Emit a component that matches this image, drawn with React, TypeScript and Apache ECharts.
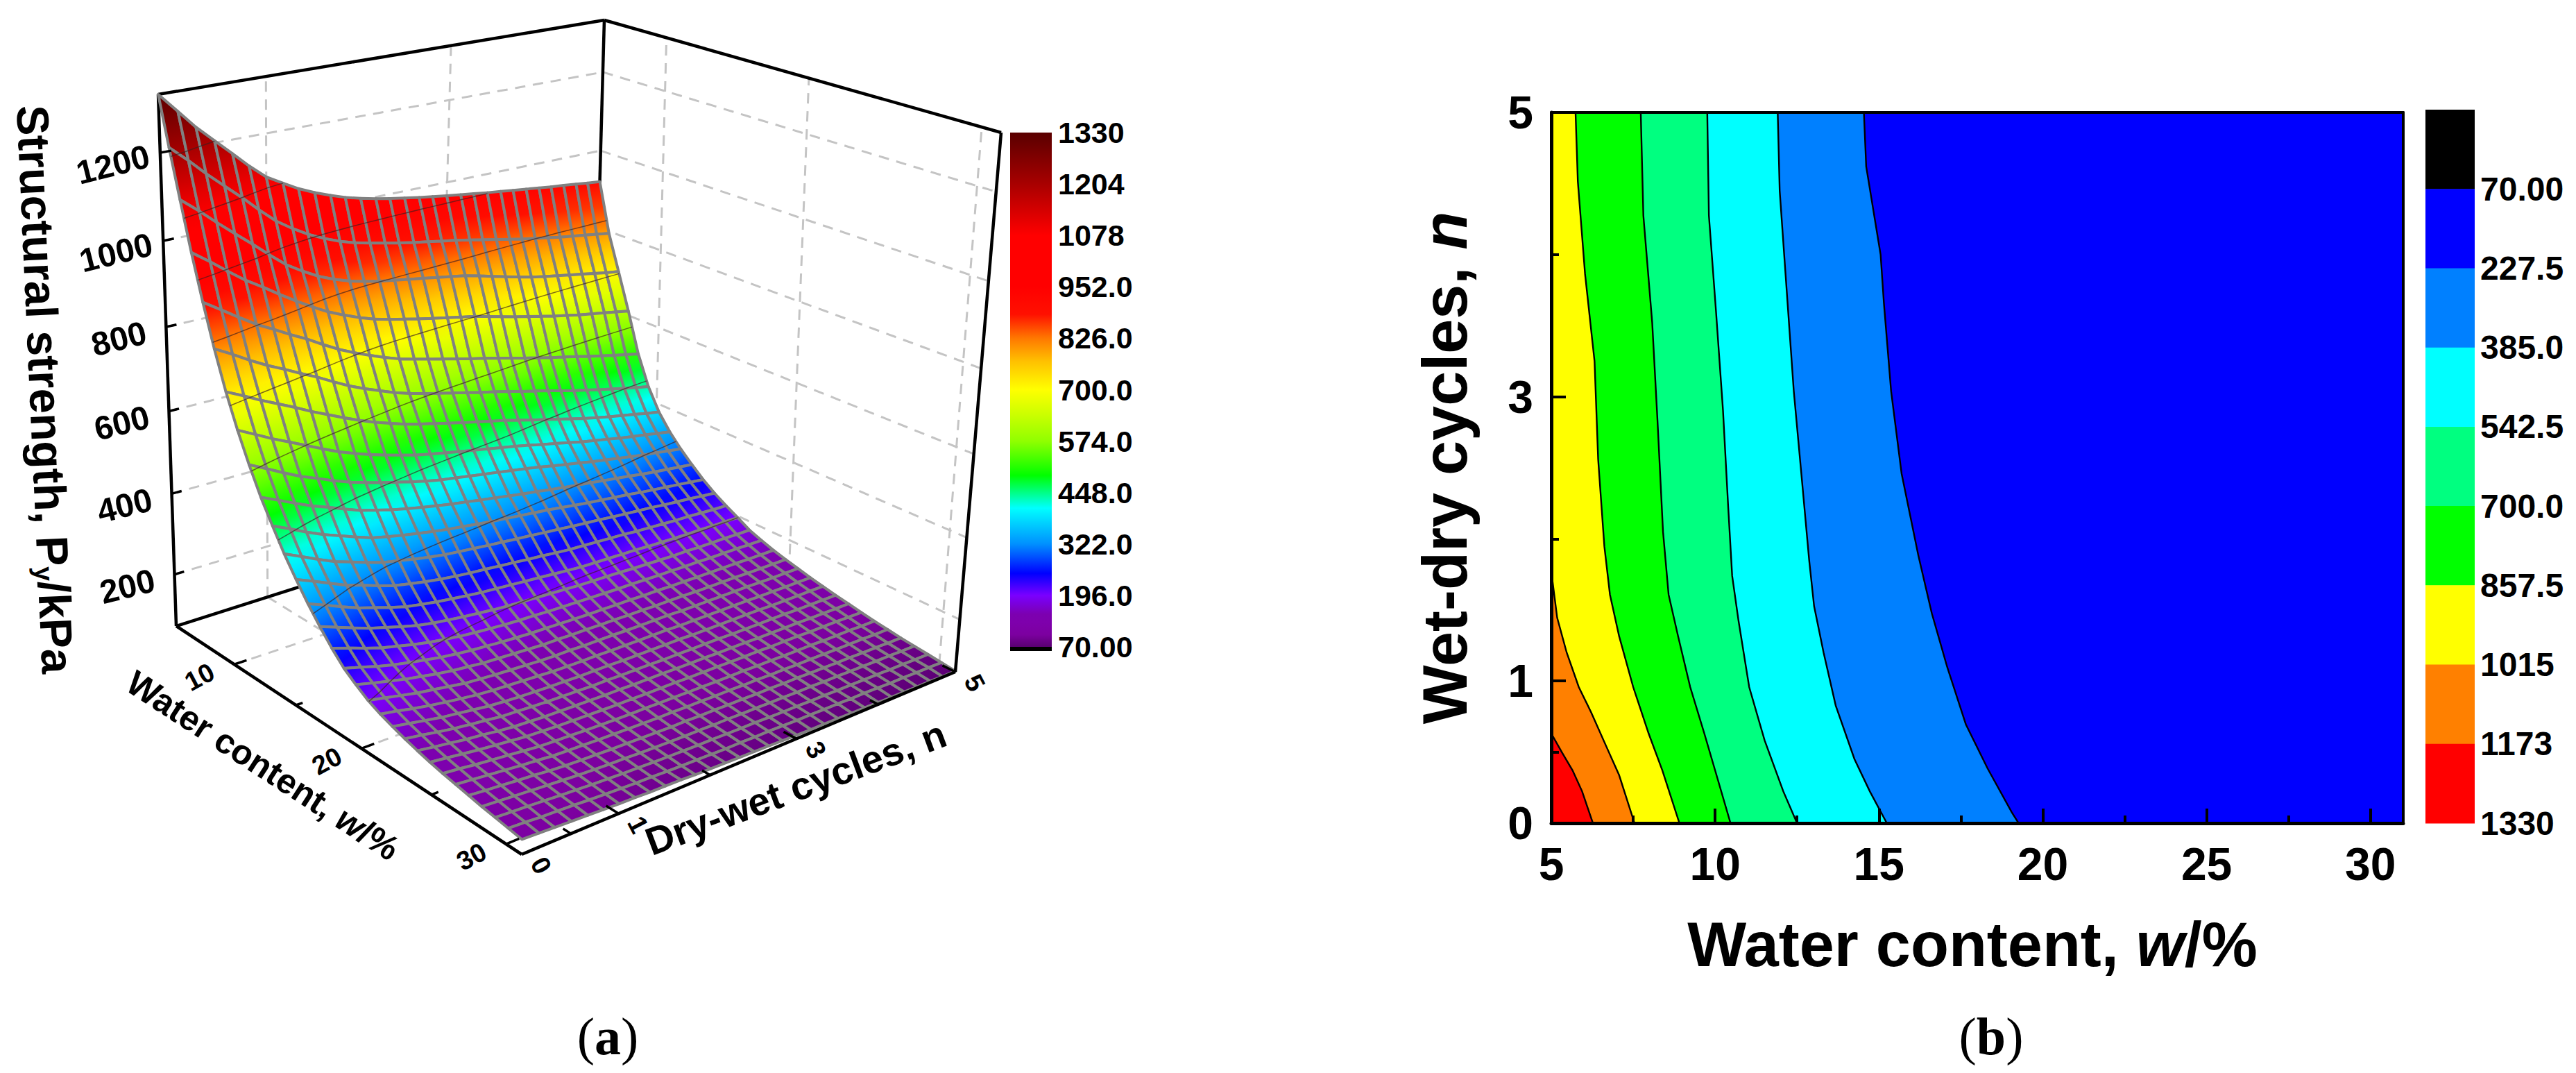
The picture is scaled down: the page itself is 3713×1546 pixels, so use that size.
import React, { useEffect, useRef } from "react";
import * as echarts from "echarts";

// ---------- data ----------
const waterGrid = [5, 5.87, 6.73, 7.6, 8.47, 9.33, 10.2, 11.07, 11.93, 12.8, 13.67, 14.53, 15.4, 16.27, 17.13, 18, 18.87, 19.73, 20.6, 21.47, 22.33, 23.2, 24.07, 24.93, 25.8, 26.67, 27.53, 28.4, 29.27, 30.13, 31];
const cyclesGrid = [0, 0.17, 0.33, 0.5, 0.67, 0.83, 1, 1.17, 1.33, 1.5, 1.67, 1.83, 2, 2.17, 2.33, 2.5, 2.67, 2.83, 3, 3.17, 3.33, 3.5, 3.67, 3.83, 4, 4.17, 4.33, 4.5, 4.67, 4.83, 5];
const strength = [
  [1330,1285,1243,1205,1168,1133,1100,1078,1058,1041,1027,1015,1005,997,990,984,978,973,968,963,959,954,950,946,942,938,934,931,927,923,920],
  [1222,1185,1148,1112,1077,1042,1008,982,961,943,928,917,908,900,893,886,880,874,868,861,854,847,840,833,827,821,815,810,805,800,795],
  [1116,1082,1048,1014,981,949,917,893,873,857,844,835,827,821,815,809,803,797,791,782,773,764,755,747,740,734,728,722,716,710,705],
  [1008,978,948,918,893,868,843,820,800,783,768,756,746,738,730,722,715,708,701,692,683,674,666,658,650,643,636,630,624,618,612],
  [907,880,854,828,807,786,766,743,723,705,689,675,662,652,643,634,625,616,608,599,590,581,572,564,556,548,540,532,524,517,510],
  [813,790,767,745,726,707,688,667,648,631,616,602,590,580,571,562,553,544,536,527,518,509,500,491,481,473,465,457,449,442,435],
  [727,707,687,668,649,630,612,594,578,563,550,538,528,519,510,501,493,485,477,467,458,449,440,431,422,414,407,400,393,386,380],
  [652,631,611,592,573,555,537,522,509,497,486,476,468,460,453,446,439,432,425,417,409,401,393,385,378,371,364,358,352,346,340],
  [586,565,545,525,509,493,478,466,455,445,435,426,418,412,406,400,394,388,382,375,368,361,354,347,341,335,329,323,318,313,308],
  [525,506,488,470,455,440,425,414,404,395,387,380,373,367,361,355,349,343,338,332,327,322,317,312,307,302,297,292,288,284,280],
  [473,454,435,417,402,388,374,365,357,350,343,337,332,327,322,318,314,310,306,301,296,291,287,283,279,274,270,266,262,258,254],
  [423,404,386,368,355,342,330,322,314,307,301,297,293,289,286,282,279,275,272,268,265,262,258,255,252,249,245,242,239,235,232],
  [379,362,345,328,315,302,290,282,275,269,264,260,257,253,250,246,243,239,236,234,232,230,228,225,223,221,219,218,216,214,213],
  [338,322,306,290,278,266,255,248,242,237,232,228,225,222,219,216,213,210,207,206,205,204,203,201,200,199,198,198,197,197,196],
  [301,286,272,258,247,236,226,219,214,209,205,201,198,196,194,192,190,188,187,186,185,183,182,181,180,180,179,179,179,178,178],
  [267,254,241,228,219,210,202,196,191,187,184,181,179,178,176,175,174,173,172,171,171,170,169,169,168,168,167,167,167,166,166],
  [237,226,215,205,197,190,183,178,174,171,168,166,164,163,162,161,160,160,159,159,158,158,157,157,156,156,156,156,155,155,155],
  [216,206,197,188,181,174,168,164,160,158,156,154,152,152,151,151,150,150,149,149,148,148,148,147,147,147,147,146,146,146,146],
  [197,189,181,173,167,161,155,152,149,147,145,143,142,142,141,141,141,140,140,140,140,139,139,139,139,139,139,138,138,138,138],
  [183,176,168,161,155,150,145,142,140,138,136,134,133,133,133,132,132,132,132,132,131,131,131,131,131,131,130,130,130,130,130],
  [172,165,158,151,146,141,136,133,131,129,128,127,126,126,126,125,125,125,125,125,124,124,124,124,124,124,123,123,123,123,123],
  [162,156,149,143,138,134,129,127,125,123,122,121,120,120,119,119,119,118,118,118,118,118,117,117,117,117,117,116,116,116,116],
  [153,147,142,136,132,127,123,121,119,118,117,116,115,115,114,114,114,113,113,113,112,112,112,111,111,111,111,110,110,110,110],
  [145,140,135,130,126,122,118,116,114,113,112,111,110,110,109,109,109,108,108,108,107,107,107,106,106,106,105,105,105,104,104],
  [138,134,129,125,121,117,113,111,110,108,107,106,105,105,104,104,103,103,102,102,102,101,101,100,100,100,99,99,99,98,98],
  [132,128,124,120,116,113,109,107,106,104,103,102,101,100,100,99,99,98,98,97,97,96,96,95,95,95,94,94,94,93,93],
  [126,122,119,115,112,108,105,103,102,100,99,98,97,96,96,95,95,94,94,93,93,92,92,91,91,90,90,89,89,88,88],
  [120,117,114,111,108,105,102,100,98,97,95,94,93,92,92,91,91,90,90,89,89,88,88,87,87,86,86,85,85,84,84],
  [115,112,110,107,104,102,99,97,95,94,92,91,90,89,89,88,87,87,86,85,85,84,84,83,83,82,82,81,81,80,80],
  [110,108,105,103,101,98,96,94,92,91,89,88,87,86,85,85,84,84,83,82,82,81,81,80,80,79,78,78,77,77,76],
  [105,103,101,99,97,95,93,92,90,89,88,86,85,84,83,82,81,80,79,78,78,77,76,76,75,74,74,73,73,72,72],
];

const contour1173 = [[5,0.631],[5.32,0.5],[5.65,0.371],[5.94,0.224],[6.27,0]];
const contour1015 = [[5,1.77],[5.18,1.445],[5.47,1.2],[5.84,0.957],[6.22,0.778],[6.69,0.534],[7.07,0.338],[7.54,0]];
const contour857 = [[5.74,5],[5.81,4.515],[6.03,3.864],[6.32,3.25],[6.43,2.56],[6.62,1.946],[6.79,1.608],[7.07,1.315],[7.5,0.957],[7.97,0.631],[8.39,0.371],[8.91,0]];
const contour700 = [[7.73,5],[7.81,4.275],[8.08,3.52],[8.24,2.837],[8.41,2.05],[8.58,1.608],[8.87,1.315],[9.24,0.957],[9.67,0.631],[10,0.371],[10.47,0]];
const contour542 = [[9.76,5],[9.81,4.275],[10.03,3.59],[10.24,2.905],[10.4,2.22],[10.52,1.74],[10.71,1.43],[11.04,0.957],[11.51,0.583],[12.08,0.224],[12.5,0]];
const contour385 = [[11.91,5],[11.97,4.45],[12.18,3.76],[12.4,3.04],[12.67,2.36],[12.87,1.85],[13.02,1.527],[13.31,1.2],[13.68,0.827],[14.25,0.452],[14.72,0.224],[15.24,0]];
const contour227 = [[14.54,5],[14.61,4.62],[15.05,4],[15.15,3.66],[15.37,3.04],[15.69,2.46],[16.2,1.885],[16.61,1.478],[17.08,1.1],[17.65,0.696],[18.31,0.387],[19.05,0.078],[19.26,0]];
const contours = [contour1173, contour1015, contour857, contour700, contour542, contour385, contour227];
const bandColors = ["#ff0000", "#ff8000", "#ffff00", "#00ff00", "#00ff80", "#00ffff", "#0080ff", "#0000ff"];

const stepBarColors = ["#000000", "#0000ff", "#0080ff", "#00ffff", "#00ff80", "#00ff00", "#ffff00", "#ff8000", "#ff0000"];
const stepBarLabels = ["70.00", "227.5", "385.0", "542.5", "700.0", "857.5", "1015", "1173", "1330"];
const rampLabels = ["1330", "1204", "1078", "952.0", "826.0", "700.0", "574.0", "448.0", "322.0", "196.0", "70.00"];
const isoLevels = [1204, 1078, 952, 826, 700, 574, 448, 322, 196];
const rampValues = [70, 100, 130, 150, 178, 196, 250, 322, 410, 490, 574, 640, 700, 770, 826, 885, 952, 1078, 1204, 1330];
const rampColors = ["#5a0072", "#7c00a0", "#7e00ac", "#7c00b0", "#7a00e0", "#7a00ff", "#0000ff", "#0090ff", "#00ffff", "#00ff00", "#90ff00", "#ccff00", "#ffff00", "#ffc000", "#ff7800", "#ff1000", "#ff0000", "#ff0000", "#a80000", "#5a0000"];

const zTicks = [200, 400, 600, 800, 1000, 1200];
const waterMajor = [10, 20, 30];
const waterMinor = [15, 25];
const cyclesMajor = [1, 3, 5];
const cyclesMinor = [0.5, 2, 4];
const panelAWaterLabels = ["10", "20", "30"];
const panelACyclesLabels = ["0", "1", "3", "5"];
const panelBWaterTicks = [5, 10, 15, 20, 25, 30];
const panelBWaterMinor = [7.5, 12.5, 17.5, 22.5, 27.5];
const panelBCycleTicks = [0, 1, 3, 5];
const panelBCycleMinor = [0.5, 2, 4];

// ---------- 3D projection of panel (a) ----------
const SANS = "'Liberation Sans', Arial, sans-serif";
const SERIF = "'Liberation Serif', 'Times New Roman', serif";

function homography(p00: number[], p10: number[], p11: number[], p01: number[]) {
  const dx1 = p10[0] - p11[0], dx2 = p01[0] - p11[0], sx = p00[0] - p10[0] + p11[0] - p01[0];
  const dy1 = p10[1] - p11[1], dy2 = p01[1] - p11[1], sy = p00[1] - p10[1] + p11[1] - p01[1];
  const det = dx1 * dy2 - dx2 * dy1;
  const g = (sx * dy2 - dx2 * sy) / det;
  const h = (dx1 * sy - sx * dy1) / det;
  const a = p10[0] - p00[0] + g * p10[0], b = p01[0] - p00[0] + h * p01[0], c = p00[0];
  const d = p10[1] - p00[1] + g * p10[1], e = p01[1] - p00[1] + h * p01[1], f = p00[1];
  return (u: number, v: number) => {
    const q = g * u + h * v + 1;
    return [(a * u + b * v + c) / q, (d * u + e * v + f) / q];
  };
}
const floorMap = homography([254, 902], [852, 712], [1377, 968], [752, 1231]);
const roofMap = homography([228, 136], [871, 29], [1443, 191], [768, 401]);
function project(w: number, n: number, z: number) {
  const u = n / 5, v = (w - 5) / 26;
  const t = (z - 70) / 1260;
  const f = t / (1 + 0.071 * (1 - t));
  const p0 = floorMap(u, v), p1 = roofMap(u, v);
  return [p0[0] + (p1[0] - p0[0]) * f, p0[1] + (p1[1] - p0[1]) * f];
}
function hex(c: string) {
  return [parseInt(c.slice(1, 3), 16), parseInt(c.slice(3, 5), 16), parseInt(c.slice(5, 7), 16)];
}
function rampColor(z: number) {
  let k = 0;
  while (k < rampValues.length - 2 && z > rampValues[k + 1]) k++;
  const s = Math.max(0, Math.min(1, (z - rampValues[k]) / (rampValues[k + 1] - rampValues[k])));
  const a = hex(rampColors[k]), b = hex(rampColors[k + 1]);
  return `rgb(${a.map((x, i) => Math.round(x + (b[i] - x) * s)).join(",")})`;
}
// where the table crosses a level, column by column: an iso-line of the surface
function isoLine(level: number) {
  const pts: number[][] = [];
  cyclesGrid.forEach((n, j) => {
    for (let i = 0; i < waterGrid.length - 1; i++) {
      const a = strength[i][j], b = strength[i + 1][j];
      if (a >= level && b < level) {
        pts.push(project(waterGrid[i] + ((a - level) / (a - b)) * (waterGrid[i + 1] - waterGrid[i]), n, level));
        break;
      }
    }
  });
  return pts;
}

const zMin = 70, zMax = 1330, wMin = 5, wMax = 31, nMin = 0, nMax = 5;
const wallGrey = "#c4c4c4";

type Seg = { a: number[]; b: number[] };
const wallSegments: Seg[] = [
  ...zTicks.map((z) => ({ a: [wMin, nMin, z], b: [wMin, nMax, z] })),
  ...zTicks.map((z) => ({ a: [wMin, nMax, z], b: [wMax, nMax, z] })),
  ...[1, 3].map((n) => ({ a: [wMin, n, zMin], b: [wMin, n, zMax] })),
  ...waterMajor.map((w) => ({ a: [w, nMax, zMin], b: [w, nMax, zMax] })),
  ...waterMajor.map((w) => ({ a: [w, nMin, zMin], b: [w, nMax, zMin] })),
  ...[1, 3].map((n) => ({ a: [wMin, n, zMin], b: [wMax, n, zMin] })),
];
const backEdges: Seg[] = [
  { a: [wMin, nMin, zMax], b: [wMin, nMax, zMax] },
  { a: [wMin, nMax, zMax], b: [wMax, nMax, zMax] },
  { a: [wMin, nMin, zMin], b: [wMin, nMin, zMax] },
  { a: [wMin, nMax, zMin], b: [wMin, nMax, zMax] },
  { a: [wMin, nMin, zMin], b: [wMin, nMax, zMin] },
];
const frontEdges: Seg[] = [
  { a: [wMin, nMin, zMin], b: [wMax, nMin, zMin] },
  { a: [wMax, nMin, zMin], b: [wMax, nMax, zMin] },
  { a: [wMax, nMax, zMin], b: [wMax, nMax, zMax] },
];
const tickSegs: { a: number[]; b: number[]; lw: number }[] = [
  ...zTicks.map((z) => ({ a: [wMin, nMin, z], b: [wMin, 0.1, z], lw: 3.5 })),
  ...waterMajor.map((w) => ({ a: [w, nMin, zMin], b: [w, 0.13, zMin], lw: 3.5 })),
  ...waterMinor.map((w) => ({ a: [w, nMin, zMin], b: [w, 0.07, zMin], lw: 3.5 })),
  ...cyclesMajor.map((n) => ({ a: [wMax, n, zMin], b: [30.2, n, zMin], lw: 3.5 })),
  ...cyclesMinor.map((n) => ({ a: [wMax, n, zMin], b: [30.5, n, zMin], lw: 3.5 })),
];

const cells: number[][] = [];
for (let i = 0; i < waterGrid.length - 1; i++) {
  for (let j = 0; j < cyclesGrid.length - 1; j++) cells.push([i, j]);
}

function renderSegs(list: Seg[], style: any) {
  return (params: any) => {
    const s: any = list[params.dataIndex];
    const p = project(s.a[0], s.a[1], s.a[2]);
    const q = project(s.b[0], s.b[1], s.b[2]);
    return {
      type: "line",
      shape: { x1: p[0], y1: p[1], x2: q[0], y2: q[1] },
      style: { ...style, ...(s.lw ? { lineWidth: s.lw } : {}) },
    };
  };
}
function segSeries(list: Seg[], style: any, z: number) {
  return {
    type: "custom",
    coordinateSystem: "none",
    silent: true,
    z,
    progressive: 0,
    data: list.map((_, i) => [i]),
    renderItem: renderSegs(list, style),
  };
}

function buildOption() {
  const boldText = (token: any) => ({ fontFamily: SANS, fontWeight: "bold", fill: "#000", ...token });
  const graphics: any[] = [];
  const label = (text: string, x: number, y: number, size: number, rotationDeg = 0, align = "center") =>
    graphics.push({
      type: "text",
      x,
      y,
      rotation: (rotationDeg * Math.PI) / 180,
      z: 20,
      style: { text, fontFamily: SANS, fontWeight: "bold", fontSize: size, fill: "#000", align, verticalAlign: "middle", textAlign: align, textVerticalAlign: "middle" },
    });

  // panel (a) z tick labels
  const zLabelOffsets = zTicks.map((z) => project(wMin, nMin, z));
  zTicks.forEach((z, i) => label(String(z), zLabelOffsets[i][0] - 68, zLabelOffsets[i][1] + 17, 48, 14));
  // panel (a) w and n labels
  waterMajor.forEach((w, i) => {
    const p = project(w, nMin, zMin);
    label(panelAWaterLabels[i], p[0] - 50, p[1] + 18, 38, 28);
  });
  [0, ...cyclesMajor].forEach((n, i) => {
    const p = project(wMax, n, zMin);
    label(panelACyclesLabels[i], p[0] + 28, p[1] + 16, 38, -62);
  });

  // panel (a) titles
  graphics.push({
    type: "text", x: 65, y: 561, rotation: (-87.4 * Math.PI) / 180, z: 20,
    style: {
      text: "{a|Structural strength, P}{s|y}{a|/kPa}", align: "center", verticalAlign: "middle",
      rich: { a: boldText({ fontSize: 65 }), s: boldText({ fontSize: 38, verticalAlign: "bottom" }) },
    },
  });
  graphics.push({
    type: "text", x: 379, y: 1103, rotation: (-33 * Math.PI) / 180, z: 20,
    style: {
      text: "{a|Water content, }{i|w}{a|/%}", align: "center", verticalAlign: "middle",
      rich: { a: boldText({ fontSize: 50 }), i: boldText({ fontSize: 50, fontStyle: "italic" }) },
    },
  });
  graphics.push({
    type: "text", x: 1147, y: 1135, rotation: (20.5 * Math.PI) / 180, z: 20,
    style: { text: "Dry-wet cycles, n", fontFamily: SANS, fontWeight: "bold", fontSize: 56, fill: "#000", align: "center", verticalAlign: "middle", textAlign: "center", textVerticalAlign: "middle" },
  });

  // panel (a) ramp colour bar
  const rampTop = 191, rampBottom = 932;
  graphics.push({
    type: "rect", shape: { x: 1456, y: rampTop, width: 60, height: rampBottom - rampTop }, z: 10,
    style: {
      fill: new echarts.graphic.LinearGradient(0, 1, 0, 0,
        rampValues.map((v, i) => ({ offset: (v - zMin) / (zMax - zMin), color: rampColors[i] }))),
    },
  });
  graphics.push({ type: "rect", shape: { x: 1456, y: rampBottom, width: 60, height: 6 }, z: 10, style: { fill: "#000" } });
  rampLabels.forEach((t, i) => label(t, 1525, rampTop + (i * (rampBottom - rampTop)) / (rampLabels.length - 1), 43, 0, "left"));

  // panel (b) step colour bar
  const stepTop = 158, stepH = (1186 - 158) / stepBarColors.length;
  stepBarColors.forEach((c, i) => {
    graphics.push({ type: "rect", shape: { x: 3496, y: stepTop + i * stepH, width: 71, height: stepH + 0.5 }, z: 10, style: { fill: c } });
    label(stepBarLabels[i], 3575, stepTop + (i + 1) * stepH, 48, 0, "left");
  });

  // sub-figure captions
  [["a", 876], ["b", 2870]].forEach(([t, x]) => {
    graphics.push({
      type: "text", x, y: 1493, z: 20,
      style: {
        text: `{p|(}{l|${t}}{p|)}`, align: "center", verticalAlign: "middle",
        rich: {
          p: { fontFamily: SERIF, fontSize: 76, fill: "#000" },
          l: { fontFamily: SERIF, fontSize: 76, fontWeight: "bold", fill: "#000" },
        },
      },
    });
  });

  const surfaceSeries = {
    type: "custom",
    coordinateSystem: "none",
    silent: true,
    z: 5,
    progressive: 0,
    data: cells,
    renderItem: (params: any) => {
      const [i, j] = cells[params.dataIndex];
      const corners = [[i, j], [i, j + 1], [i + 1, j + 1], [i + 1, j]];
      const pts = corners.map(([a, b]) => project(waterGrid[a], cyclesGrid[b], strength[a][b]));
      const zA = (strength[i][j] + strength[i][j + 1]) / 2;
      const zB = (strength[i + 1][j] + strength[i + 1][j + 1]) / 2;
      const top = [(pts[0][0] + pts[1][0]) / 2, (pts[0][1] + pts[1][1]) / 2];
      const bot = [(pts[2][0] + pts[3][0]) / 2, (pts[2][1] + pts[3][1]) / 2];
      return {
        type: "polygon",
        shape: { points: pts },
        style: {
          fill: new echarts.graphic.LinearGradient(top[0], top[1], bot[0], bot[1], [
            { offset: 0, color: rampColor(zA) },
            { offset: 0.5, color: rampColor((zA + zB) / 2) },
            { offset: 1, color: rampColor(zB) },
          ], true),
          stroke: "#808080",
          lineWidth: 4,
          lineJoin: "round",
        },
      };
    },
  };

  const isoSeries = {
    type: "custom",
    coordinateSystem: "none",
    silent: true,
    z: 6,
    progressive: 0,
    data: isoLevels.map((_, i) => [i]),
    renderItem: (params: any) => ({
      type: "polyline",
      shape: { points: isoLine(isoLevels[params.dataIndex]) },
      style: { stroke: "rgba(60,30,30,0.65)", lineWidth: 1.5, fill: "none" },
    }),
  };

  const fillSeries = {
    type: "custom",
    xAxisIndex: 0,
    yAxisIndex: 0,
    silent: true,
    clip: true,
    z: 2,
    progressive: 0,
    data: bandColors.map((_, i) => [i]),
    renderItem: (params: any, api: any) => {
      const i = params.dataIndex;
      if (i === 0) {
        return {
          type: "polygon",
          shape: { points: [[wMin, nMin], [wMax, nMin], [wMax, nMax], [wMin, nMax]].map((p) => api.coord(p)) },
          style: { fill: bandColors[0] },
        };
      }
      const c = contours[i - 1];
      const closing = c[0][1] < nMax ? [[wMax, nMin], [wMax, nMax], [wMin, nMax]] : [[wMax, nMin], [wMax, nMax]];
      return {
        type: "group",
        children: [
          { type: "polygon", shape: { points: [...c, ...closing].map((p) => api.coord(p)) }, style: { fill: bandColors[i] } },
          { type: "polyline", shape: { points: c.map((p) => api.coord(p)) }, style: { stroke: "#000", lineWidth: 2.4, fill: "none" } },
        ],
      };
    },
  };

  const axisInk = { lineStyle: { color: "#000", width: 5 } };
  const tickLabelStyle = { fontFamily: SANS, fontWeight: "bold", fontSize: 66, color: "#000" };
  const titleRich = {
    a: { fontFamily: SANS, fontWeight: "bold", fontSize: 90, color: "#000" },
    i: { fontFamily: SANS, fontWeight: "bold", fontStyle: "italic", fontSize: 90, color: "#000" },
  };

  return {
    animation: false,
    backgroundColor: "#fff",
    grid: [{ left: 2236, top: 162, width: 1228, height: 1024, containLabel: false }],
    xAxis: [
      {
        type: "value", z: 10, min: wMin, max: wMax, gridIndex: 0, position: "bottom", splitLine: { show: false },
        axisLine: { show: true, onZero: false, ...axisInk },
        axisTick: { show: true, inside: true, length: 21, lineStyle: { color: "#000", width: 4 }, customValues: panelBWaterTicks },
        axisLabel: { show: true, margin: 26, customValues: panelBWaterTicks, ...tickLabelStyle },
        name: "{a|Water content, }{i|w}{a|/%}", nameLocation: "middle", nameGap: 130,
        nameTextStyle: { rich: titleRich, padding: [0, 14, 0, 0] },
      },
      {
        type: "value", z: 10, min: wMin, max: wMax, gridIndex: 0, position: "bottom", splitLine: { show: false },
        axisLine: { show: false }, axisLabel: { show: false },
        axisTick: { show: true, inside: true, length: 11, lineStyle: { color: "#000", width: 4 }, customValues: panelBWaterMinor },
      },
      {
        type: "value", z: 10, min: wMin, max: wMax, gridIndex: 0, position: "top", splitLine: { show: false },
        axisLine: { show: true, onZero: false, lineStyle: { color: "#000", width: 4 } }, axisLabel: { show: false }, axisTick: { show: false },
      },
    ],
    yAxis: [
      {
        type: "value", z: 10, min: nMin, max: nMax, gridIndex: 0, position: "left", splitLine: { show: false },
        axisLine: { show: true, onZero: false, ...axisInk },
        axisTick: { show: true, inside: true, length: 21, lineStyle: { color: "#000", width: 4 }, customValues: panelBCycleTicks },
        axisLabel: { show: true, margin: 26, customValues: panelBCycleTicks, ...tickLabelStyle },
        name: "{a|Wet-dry cycles, }{i|n}", nameLocation: "middle", nameGap: 108,
        nameTextStyle: { rich: titleRich },
      },
      {
        type: "value", z: 10, min: nMin, max: nMax, gridIndex: 0, position: "left", splitLine: { show: false },
        axisLine: { show: false }, axisLabel: { show: false },
        axisTick: { show: true, inside: true, length: 11, lineStyle: { color: "#000", width: 4 }, customValues: panelBCycleMinor },
      },
      {
        type: "value", z: 10, min: nMin, max: nMax, gridIndex: 0, position: "right", splitLine: { show: false },
        axisLine: { show: true, onZero: false, lineStyle: { color: "#000", width: 4 } }, axisLabel: { show: false }, axisTick: { show: false },
      },
    ],
    graphic: { elements: graphics },
    series: [
      fillSeries,
      segSeries(wallSegments, { stroke: wallGrey, lineWidth: 3, lineDash: [15, 11] }, 1),
      segSeries(backEdges, { stroke: "#000", lineWidth: 4.5 }, 2),
      surfaceSeries,
      isoSeries,
      segSeries(frontEdges, { stroke: "#000", lineWidth: 4.5 }, 7),
      segSeries(tickSegs as any, { stroke: "#000", lineWidth: 3.5 }, 7),
    ],
  };
}

export default function App() {
  const ref = useRef<HTMLDivElement>(null);
  useEffect(() => {
    const chart = echarts.init(ref.current!, null, { renderer: "svg" });
    chart.setOption(buildOption() as any);
    return () => chart.dispose();
  }, []);
  return <div ref={ref} style={{ position: "absolute", left: 0, top: 0, width: 3713, height: 1546, background: "#fff" }} />;
}
